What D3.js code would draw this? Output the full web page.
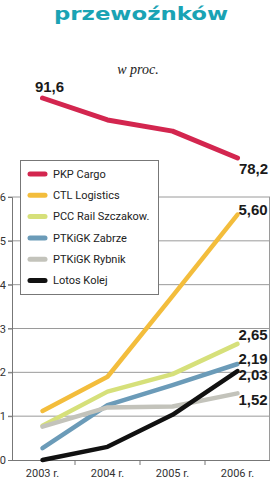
<!DOCTYPE html>
<html>
<head>
<meta charset="utf-8">
<script src="https://cdn.jsdelivr.net/npm/d3@7"></script>
<style>
  body { margin: 0; background: #fff; }
  svg { display: block; }
</style>
</head>
<body>
<div id="fig"></div>
<script>
// data
var years = ["2003 r.", "2004 r.", "2005 r.", "2006 r."];
var pkpValues = [91.6, 86.7, 84.2, 78.2];
var seriesNames = ["CTL Logistics", "PCC Rail Szczakow.", "PTKiGK Zabrze", "PTKiGK Rybnik", "Lotos Kolej"];
var ctl = [1.12, 1.90, 3.74, 5.60];
var pcc = [0.78, 1.56, 1.96, 2.65];
var zabrze = [0.27, 1.25, 1.71, 2.19];
var rybnik = [0.76, 1.20, 1.22, 1.52];
var lotos = [0.00, 0.30, 1.03, 2.03];
var yTicks = [0, 1, 2, 3, 4, 5, 6];

var seriesValues = [ctl, pcc, zabrze, rybnik, lotos];
var colors = ["#f3bd3c", "#d6e07a", "#6b9bb8", "#c3c3bb", "#111111"];
var pkpColor = "#d3264f";
// label nudges so end labels do not collide
var labelNudge = [0, -4, 0, 12, 9];

var W = 271, H = 480;
var svg = d3.select("#fig").append("svg")
    .attr("width", W)
    .attr("height", H);

// title
svg.append("text")
    .attr("x", 141).attr("y", 20)
    .attr("text-anchor", "middle")
    .attr("textLength", 174).attr("lengthAdjust", "spacingAndGlyphs")
    .style("font-family", "DejaVu Sans")
    .style("font-weight", "bold")
    .style("font-size", "17px")
    .style("fill", "#1aa3b4")
    .text("przewoźnków");

svg.append("text")
    .attr("x", 138).attr("y", 74)
    .attr("text-anchor", "middle")
    .style("font-family", "Liberation Serif")
    .style("font-style", "italic")
    .style("font-size", "14px")
    .style("fill", "#222")
    .text("w proc.");

// scales
var x = d3.scaleBand().domain(years).range([10, 270]);
var cx = function(i) { return x(years[i]) + x.bandwidth() / 2; };
var y = d3.scaleLinear().domain([0, 6]).range([460, 197]);
var yTop = d3.scaleLinear().domain([78.2, 91.6]).range([158, 98]);

// grid
svg.append("g").selectAll("line")
  .data(yTicks.filter(function(d) { return d > 0; }))
  .enter().append("line")
    .attr("x1", 8).attr("x2", 270)
    .attr("y1", function(d) { return y(d); })
    .attr("y2", function(d) { return y(d); })
    .attr("stroke", "#9a9a9a").attr("stroke-width", 1);

// y axis
var yAxis = svg.append("g")
    .attr("transform", "translate(12,0)")
    .call(d3.axisLeft(y).tickValues(yTicks).tickSize(4).tickFormat(d3.format("d")));
yAxis.select(".domain").attr("stroke", "#777");
yAxis.selectAll(".tick line").attr("stroke", "#777");
yAxis.selectAll("text")
    .attr("x", -6)
    .style("font-family", "Roboto")
    .style("font-size", "11px")
    .style("fill", "#333");

// right border
svg.append("line")
    .attr("x1", 269.5).attr("x2", 269.5)
    .attr("y1", y(6)).attr("y2", y(0))
    .attr("stroke", "#9a9a9a");

// x axis
var xAxis = svg.append("g")
    .attr("transform", "translate(0," + y(0) + ")")
    .call(d3.axisBottom(x).tickSize(0).tickPadding(9));
xAxis.select(".domain").attr("stroke", "#777").attr("d", "M12,0.5H270");
xAxis.selectAll("text")
    .style("font-family", "Roboto")
    .style("font-size", "11px")
    .style("fill", "#333");
svg.append("g").selectAll("line")
  .data(years.slice(1))
  .enter().append("line")
    .attr("x1", function(d) { return x(d); })
    .attr("x2", function(d) { return x(d); })
    .attr("y1", y(0)).attr("y2", y(0) + 5)
    .attr("stroke", "#777");

// PKP Cargo on its own scale
var lineTop = d3.line()
    .x(function(d, i) { return cx(i); })
    .y(function(d) { return yTop(d); });
svg.append("path")
    .datum(pkpValues)
    .attr("d", lineTop)
    .attr("fill", "none")
    .attr("stroke", pkpColor)
    .attr("stroke-width", 5)
    .attr("stroke-linecap", "round")
    .attr("stroke-linejoin", "round");

var numFmt = function(v, dec) { return v.toFixed(dec).replace(".", ","); };

svg.append("text")
    .attr("x", cx(0) + 7).attr("y", yTop(pkpValues[0]) - 6)
    .attr("text-anchor", "middle")
    .attr("class", "num")
    .text(numFmt(pkpValues[0], 1));
svg.append("text")
    .attr("x", cx(3) + 16).attr("y", yTop(pkpValues[3]) + 16)
    .attr("text-anchor", "middle")
    .attr("class", "num")
    .text(numFmt(pkpValues[3], 1));

// lower lines
var line = d3.line()
    .x(function(d, i) { return cx(i); })
    .y(function(d) { return y(d); });

svg.append("g").selectAll("path")
  .data(seriesValues)
  .enter().append("path")
    .attr("d", line)
    .attr("fill", "none")
    .attr("stroke", function(d, i) { return colors[i]; })
    .attr("stroke-width", 4.5)
    .attr("stroke-linecap", "round")
    .attr("stroke-linejoin", "round");

// end labels
svg.append("g").selectAll("text")
  .data(seriesValues)
  .enter().append("text")
    .attr("class", "num")
    .attr("x", cx(3) + 1)
    .attr("y", function(d, i) { return y(d[3]) + labelNudge[i]; })
    .text(function(d) { return numFmt(d[3], 2); });

svg.selectAll(".num")
    .style("font-family", "Liberation Sans")
    .style("font-weight", "bold")
    .style("font-size", "15px")
    .style("fill", "#1a1a1a");

// legend
var legendNames = ["PKP Cargo"].concat(seriesNames);
var legendColors = [pkpColor].concat(colors);
var legend = svg.append("g").attr("transform", "translate(20,160)");
legend.append("rect")
    .attr("x", 0.5).attr("y", 0.5)
    .attr("width", 138).attr("height", 134)
    .attr("fill", "#fff")
    .attr("stroke", "#777");
var item = legend.selectAll(".item")
  .data(legendNames)
  .enter().append("g")
    .attr("class", "item")
    .attr("transform", function(d, i) { return "translate(0," + (14 + i * 21.3) + ")"; });
item.append("line")
    .attr("x1", 10).attr("x2", 25)
    .attr("stroke", function(d, i) { return legendColors[i]; })
    .attr("stroke-width", 5)
    .attr("stroke-linecap", "round");
item.append("text")
    .attr("x", 33).attr("dy", "0.35em")
    .style("font-family", "Roboto")
    .style("font-size", "11px")
    .style("fill", "#222")
    .text(function(d) { return d; });
</script>
</body>
</html>
